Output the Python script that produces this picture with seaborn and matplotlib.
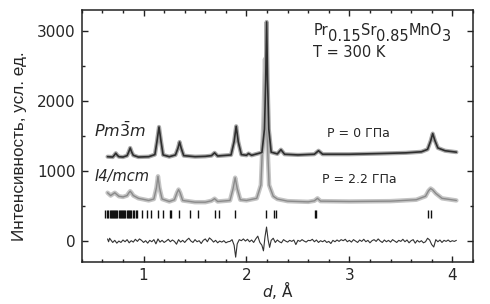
import numpy as np
import pandas as pd
import matplotlib
matplotlib.use("Agg")
import matplotlib.pyplot as plt
import seaborn as sns
from matplotlib.ticker import MultipleLocator

# ---------------- data ----------------
# P = 0 GPa profile (Pm-3m), breakpoints (d, intensity)
d_top = [0.65, 0.70, 0.715, 0.73, 0.745, 0.76, 0.80, 0.84, 0.855, 0.87, 0.885, 0.90, 0.95, 1.05,
         1.11, 1.13, 1.15, 1.17, 1.19, 1.25, 1.31, 1.335, 1.35, 1.365, 1.39, 1.50, 1.60, 1.66,
         1.69, 1.72, 1.85, 1.88, 1.90, 1.92, 1.95, 2.00, 2.02, 2.05, 2.15, 2.175, 2.187, 2.196,
         2.205, 2.217, 2.24, 2.30, 2.335, 2.37, 2.50, 2.66, 2.70, 2.74, 3.00, 3.30, 3.55, 3.70,
         3.76, 3.79, 3.81, 3.83, 3.86, 3.93, 4.04]
I_top = [1205, 1200, 1225, 1255, 1225, 1205, 1200, 1220, 1270, 1330, 1270, 1225, 1200, 1205,
         1235, 1420, 1630, 1420, 1230, 1205, 1230, 1330, 1415, 1330, 1220, 1205, 1210, 1220,
         1260, 1215, 1230, 1420, 1640, 1420, 1235, 1225, 1250, 1225, 1265, 1600, 2300, 3130,
         2300, 1600, 1270, 1245, 1305, 1240, 1230, 1240, 1290, 1240, 1240, 1250, 1260, 1275,
         1310, 1430, 1535, 1440, 1330, 1290, 1270]

# P = 2.2 GPa profile (I4/mcm)
d_bot = [0.65, 0.68, 0.72, 0.76, 0.80, 0.84, 0.855, 0.87, 0.885, 0.90, 0.95, 1.05, 1.10,
         1.125, 1.14, 1.155, 1.18, 1.25, 1.30, 1.325, 1.34, 1.355, 1.38, 1.50, 1.60, 1.66,
         1.69, 1.72, 1.84, 1.87, 1.89, 1.91, 1.94, 2.00, 2.10, 2.14, 2.165, 2.18, 2.195, 2.22,
         2.26, 2.30, 2.40, 2.60, 2.66, 2.69, 2.72, 3.00, 3.40, 3.65, 3.74, 3.77, 3.79, 3.81,
         3.84, 3.90, 4.04]
I_bot = [690, 650, 690, 640, 630, 650, 685, 712, 685, 650, 610, 580, 600,
         760, 925, 760, 600, 565, 590, 690, 735, 690, 580, 555, 555, 575,
         605, 565, 580, 750, 905, 750, 590, 580, 610, 800, 1700, 2600, 1700, 800,
         640, 600, 570, 560, 575, 610, 570, 565, 570, 590, 640, 720, 750, 730,
         680, 610, 580]

# Bragg reflection positions (I4/mcm)
bragg = [0.63, 0.645, 0.655, 0.67, 0.68, 0.69, 0.70, 0.715, 0.725, 0.735, 0.745, 0.76, 0.77,
         0.78, 0.79, 0.80, 0.81, 0.82, 0.835, 0.845, 0.86, 0.87, 0.88, 0.90, 0.91, 0.93, 0.94,
         0.986, 1.03, 1.07, 1.14, 1.19, 1.255, 1.265, 1.34, 1.45, 1.53, 1.69, 1.73, 1.89,
         2.19, 2.27, 2.285, 2.67, 2.68, 3.765, 3.79]

# difference curve (d, obs - calc)
d_diff = [0.65, 0.66, 0.67, 0.68, 0.70, 0.72, 0.74, 0.76, 0.78, 0.80, 0.82, 0.84, 0.86, 0.88,
          0.90, 0.92, 0.94, 0.96, 0.98, 1.00, 1.02, 1.04, 1.06, 1.08, 1.10, 1.12, 1.14, 1.16,
          1.18, 1.20, 1.22, 1.24, 1.26, 1.28, 1.30, 1.32, 1.34, 1.36, 1.38, 1.40, 1.42, 1.44,
          1.46, 1.48, 1.50, 1.52, 1.54, 1.56, 1.58, 1.60, 1.62, 1.64, 1.66, 1.68, 1.70, 1.72,
          1.74, 1.76, 1.78, 1.80, 1.82, 1.84, 1.86, 1.88, 1.895, 1.91, 1.93, 1.95, 1.97, 1.99,
          2.01, 2.03, 2.05, 2.07, 2.09, 2.11, 2.13, 2.15, 2.165, 2.18, 2.195, 2.21, 2.225, 2.24,
          2.26, 2.28, 2.30, 2.32, 2.34, 2.36, 2.38, 2.40, 2.42, 2.44, 2.46, 2.48, 2.50, 2.52,
          2.54, 2.56, 2.58, 2.60, 2.62, 2.64, 2.66, 2.68, 2.70, 2.72, 2.74, 2.76, 2.78, 2.80,
          2.82, 2.84, 2.86, 2.88, 2.90, 2.92, 2.94, 2.96, 2.98, 3.00, 3.02, 3.04, 3.06, 3.08,
          3.10, 3.12, 3.14, 3.16, 3.18, 3.20, 3.22, 3.24, 3.26, 3.28, 3.30, 3.32, 3.34, 3.36,
          3.38, 3.40, 3.42, 3.44, 3.46, 3.48, 3.50, 3.52, 3.54, 3.56, 3.58, 3.60, 3.62, 3.64,
          3.66, 3.68, 3.70, 3.72, 3.74, 3.76, 3.78, 3.80, 3.82, 3.84, 3.86, 3.88, 3.90, 3.92,
          3.94, 3.96, 3.98, 4.00, 4.02, 4.04]
I_diff = [30, -10, 40, 20, -20, 10, -30, 0, -20, 15, -10, 20, -25, 5,
          -15, 25, -5, 30, 10, -20, 5, -30, 10, -10, 20, -40, 30, -15,
          10, -20, 0, 25, -10, 15, -5, -45, 20, -15, 10, -20, 15, 40,
          0, -20, 20, -10, 5, -35, 10, 30, -10, 45, 20, -15, 10, -25,
          0, -15, 5, -25, -10, -5, 20, -60, -230, -40, 20, 5, 30, 0,
          25, -10, 15, -20, 30, 70, -20, -60, -140, 60, 200, 20, -90, 10,
          40, -20, 15, -10, -25, 20, 0, -15, 10, -5, 15, -50, 10, -5,
          20, 0, -15, 10, 5, 25, -10, 15, -20, 5, -10, 10, -20, -5,
          -35, 10, -10, 15, -5, 20, 5, 25, -10, 10, -15, 20, 0, -20,
          15, -5, 25, -10, 10, -25, 5, 20, -5, 30, 0, -20, 15, -10,
          10, -15, 20, 0, -20, 10, -5, 25, -10, 15, -25, 5, 20, -30,
          10, -15, 5, -25, -10, 40, 15, -50, -85, 20, -10, 15, -20, 10,
          -5, 15, -10, 5, -5, 10]

x_ticks = [1, 2, 3, 4]
y_ticks = [0, 1000, 2000, 3000]

formula_parts = [("Pr", 0), ("0.15", -4), ("Sr", 4), ("0.85", -4), ("MnO", 4), ("3", -4)]

# ---------------- plotting ----------------
sns.set_style("ticks")
plt.rcParams['font.family'] = ['DejaVu Sans']
plt.rcParams['mathtext.fontset'] = 'dejavusans'

fig = plt.figure(figsize=(4.9, 3.04), dpi=100)
ax = fig.add_axes([0.167, 0.138, 0.798, 0.829])

top = pd.DataFrame({"d": d_top, "I": I_top})
bot = pd.DataFrame({"d": d_bot, "I": I_bot})
dif = pd.DataFrame({"d": d_diff, "I": I_diff})

# observed (grey circles band) and calculated lines
sns.lineplot(data=bot, x="d", y="I", ax=ax, color="#c4c4c4", linewidth=3.2, sort=False)
sns.lineplot(data=bot, x="d", y="I", ax=ax, color="#8a8a8a", linewidth=1.0, sort=False)
sns.lineplot(data=top, x="d", y="I", ax=ax, color="#a8a8a8", linewidth=3.0, sort=False)
sns.lineplot(data=top, x="d", y="I", ax=ax, color="#2e2e2e", linewidth=1.2, sort=False)
sns.lineplot(data=dif, x="d", y="I", ax=ax, color="#333333", linewidth=0.8, sort=False)

ax.vlines(bragg, 330, 440, color="#111111", linewidth=1.0)

ax.set_xlim(0.4, 4.2)
ax.set_ylim(-300, 3300)
ax.set_xticks(x_ticks)
ax.set_yticks(y_ticks)
ax.xaxis.set_minor_locator(MultipleLocator(0.2))
ax.yaxis.set_minor_locator(MultipleLocator(500))
ax.tick_params(which="both", direction="in", top=True, right=True, width=1.0,
               color="#222222", labelsize=11, pad=4.5)
ax.tick_params(which="major", length=4.5)
ax.tick_params(which="minor", length=2.5)
for s in ax.spines.values():
    s.set_linewidth(1.1)
    s.set_color("#222222")

ax.set_xlabel(r"$d$, Å", fontsize=11, labelpad=-3)
ax.set_ylabel("Интенсивность, усл. ед.", fontsize=12.3,
              family=["Liberation Sans", "DejaVu Sans"])
ax.yaxis.set_label_coords(-0.141, 0.458)

# compound formula with lowered indices
t = ax.text(2.65, 2940, formula_parts[0][0], fontsize=10.5, va="baseline", ha="left")
for s, dy in formula_parts[1:]:
    t = ax.annotate(s, xy=(1, 0), xycoords=t, xytext=(0, dy), textcoords="offset points",
                    fontsize=10.5, va="bottom", ha="left")

ax.text(2.65, 2630, "T = 300 K", fontsize=10.5, va="baseline", ha="left")
ax.text(3.09, 1540, "P = 0 ГПа", fontsize=9, va="center", ha="center")
ax.text(3.10, 880, "P = 2.2 ГПа", fontsize=9, va="center", ha="center")
ax.text(0.52, 1580, r"$Pm\bar{3}m$", fontsize=11.5, va="center", ha="left")
ax.text(0.52, 915, "I4/mcm", fontsize=10.5, va="center", ha="left", style="italic")

fig.savefig("out.png", dpi=100)
